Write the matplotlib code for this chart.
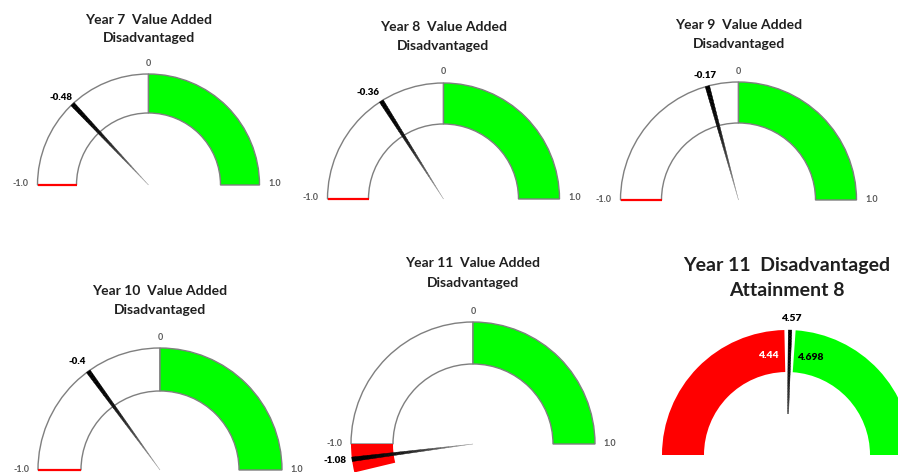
import numpy as np
import matplotlib.pyplot as plt
from matplotlib.patches import Wedge, Polygon

W, H = 898, 472

# value added gauges, scale -1 .. 1
va_titles = [
    ("Year 7  Value Added", "Disadvantaged"),
    ("Year 8  Value Added", "Disadvantaged"),
    ("Year 9  Value Added", "Disadvantaged"),
    ("Year 10  Value Added", "Disadvantaged"),
    ("Year 11  Value Added", "Disadvantaged"),
]
va_values = [-0.48, -0.36, -0.17, -0.4, -1.08]
va_value_labels = ["-0.48", "-0.36", "-0.17", "-0.4", "-1.08"]
va_red_end = [-1.0, -1.0, -1.0, -1.0, -1.15]
va_min, va_mid, va_max = -1.0, 0.0, 1.0
va_tick_labels = ["-1.0", "0", "1.0"]

# attainment 8 gauge, scale 0 .. 9
a8_title = ("Year 11  Disadvantaged", "Attainment 8")
a8_min, a8_max = 0.0, 9.0
a8_low = 4.44
a8_high = 4.698
a8_value = 4.57

# layout in pixels (x from left, y from top): centre x, centre y, outer r, inner r
va_layout = [
    (148.5, 185, 111, 72),
    (443.5, 199, 116, 75),
    (738.5, 200, 118, 77),
    (160, 470, 122, 79),
    (473, 444, 122, 80),
]
va_title_y = [(20, 38), (27, 46), (25, 44), (291, 310), (263, 283)]
va_label_off = [(0, -7, "right"), (-2, -9, "right"), (-2, -11, "center"),
                (-2, -10, "right"), (-5, 1, "right")]
a8_layout = (787, 455, 125, 83)

GREEN = "#00ff00"
RED = "#ff0000"
EDGE = "#7f7f7f"
TITLE_C = "#1f1f1f"
TICK_C = "#595959"
plt.rcParams["font.family"] = ["Lato", "DejaVu Sans"]

fig = plt.figure(figsize=(W / 100, H / 100), dpi=100)
ax = fig.add_axes([0, 0, 1, 1])
ax.set_xlim(0, W)
ax.set_ylim(0, H)
ax.axis("off")


def Y(y):
    return H - y


def angle(v, lo, hi):
    return 180.0 - (v - lo) / (hi - lo) * 180.0


def needle(cx, cy, R, ang, width, start=0.0, n=30):
    a = np.radians(ang)
    d = np.array([np.cos(a), np.sin(a)])
    p = np.array([-np.sin(a), np.cos(a)])
    c = np.array([cx, cy])
    ts = np.linspace(start, 1.0, n + 1)
    for i in range(n):
        t0, t1 = ts[i], ts[i + 1]
        w0 = width * t0 / 2
        w1 = width * t1 / 2
        pts = [c + d * R * t0 + p * w0, c + d * R * t1 + p * w1,
               c + d * R * t1 - p * w1, c + d * R * t0 - p * w0]
        g = 0.8 * (1 - t1) ** 2.2
        ax.add_patch(Polygon(pts, closed=True, facecolor=(g, g, g),
                             edgecolor=(g, g, g), lw=0.3, zorder=5))
    return c + d * R


for i in range(len(va_values)):
    cx, cyp, R, r = va_layout[i]
    cy = Y(cyp)
    wd = R - r
    a_mid = angle(va_mid, va_min, va_max)
    ax.add_patch(Wedge((cx, cy), R, a_mid, 180, width=wd, facecolor="white",
                       edgecolor=EDGE, lw=1.0, zorder=2))
    ax.add_patch(Wedge((cx, cy), R, 0, a_mid, width=wd, facecolor=GREEN,
                       edgecolor=EDGE, lw=1.0, zorder=2))
    a_red = angle(va_red_end[i], va_min, va_max)
    if a_red > 180:
        ax.add_patch(Wedge((cx, cy), R, 180, a_red, width=wd, facecolor=RED,
                           edgecolor="none", zorder=3))
    else:
        ax.plot([cx - R, cx - r], [cy, cy], color=RED, lw=1.6, zorder=3,
                solid_capstyle="butt")
    tip = needle(cx, cy, R, angle(va_values[i], va_min, va_max), 4.5)
    dx, dy, ha = va_label_off[i]
    ax.text(tip[0] + dx, tip[1] - dy, va_value_labels[i], ha=ha, va="center",
            fontsize=7, fontweight="heavy", color="black", zorder=6)
    # scale labels
    ax.text(cx - R - 17, cy + 1, va_tick_labels[0], ha="center", va="center",
            fontsize=6.5, fontweight="bold", color=TICK_C)
    ax.text(cx, cy + R + 11, va_tick_labels[1], ha="center", va="center",
            fontsize=6.5, fontweight="bold", color=TICK_C)
    ax.text(cx + R + 15, cy + 1, va_tick_labels[2], ha="center", va="center",
            fontsize=6.5, fontweight="bold", color=TICK_C)
    t1, t2 = va_title_y[i]
    ax.text(cx, Y(t1), va_titles[i][0], ha="center", va="center",
            fontsize=10, fontweight="bold", color=TITLE_C)
    ax.text(cx, Y(t2), va_titles[i][1], ha="center", va="center",
            fontsize=10, fontweight="bold", color=TITLE_C)

# attainment 8 gauge
cx, cyp, R, r = a8_layout
cy = Y(cyp)
a_low = angle(a8_low, a8_min, a8_max)
a_high = angle(a8_high, a8_min, a8_max)
ax.add_patch(Wedge((cx, cy), R, a_low, 180, width=R - r, facecolor=RED,
                   edgecolor="none", zorder=2))
ax.add_patch(Wedge((cx, cy), R, 0, a_high, width=R - r, facecolor=GREEN,
                   edgecolor="none", zorder=2))
tip = needle(cx, cy, R, angle(a8_value, a8_min, a8_max), 3.5, start=0.33)
ax.text(tip[0] + 1, tip[1] + 12, f"{a8_value:.2f}", ha="center", va="center",
        fontsize=7.5, fontweight="heavy", color="black", zorder=6)
ax.text(cx - 19, Y(356), f"{a8_low:.2f}", ha="center", va="center",
        fontsize=7.5, fontweight="heavy", color="white", zorder=6)
ax.text(cx + 23, Y(357), f"{a8_high:.3f}", ha="center", va="center",
        fontsize=7.5, fontweight="heavy", color="black", zorder=6)
ax.text(cx, Y(265), a8_title[0], ha="center", va="center",
        fontsize=14, fontweight="bold", color=TITLE_C)
ax.text(cx, Y(290), a8_title[1], ha="center", va="center",
        fontsize=14, fontweight="bold", color=TITLE_C)

fig.savefig("out.png", dpi=100)
